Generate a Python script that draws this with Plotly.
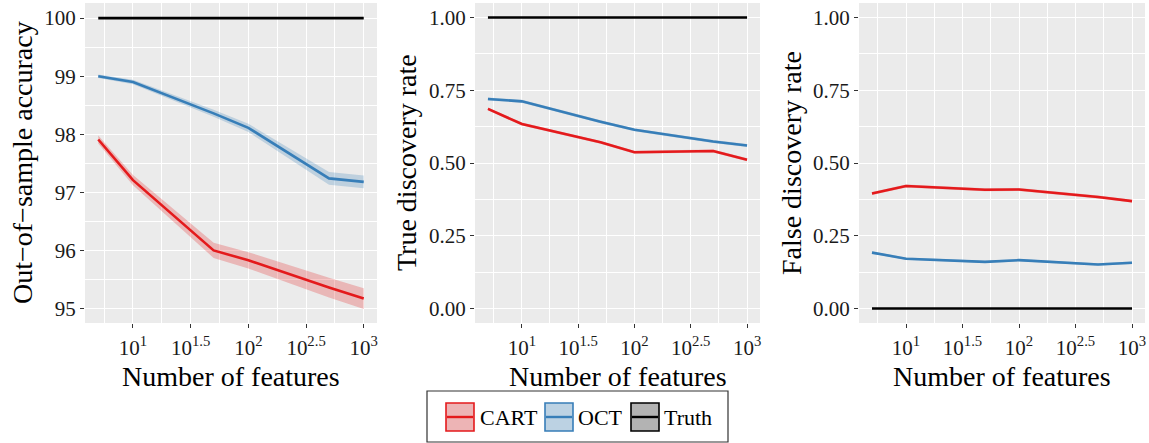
import plotly.graph_objects as go

# ---------------- data ----------------
n_features = [5, 10, 50, 100, 500, 1000]

# Panel 1: out-of-sample accuracy
acc_cart = [97.91, 97.21, 96.00, 95.83, 95.36, 95.17]
acc_cart_lo = [97.84, 97.12, 95.87, 95.69, 95.19, 94.99]
acc_cart_hi = [97.98, 97.30, 96.13, 95.97, 95.53, 95.35]
acc_oct = [99.00, 98.90, 98.36, 98.11, 97.24, 97.18]
acc_oct_lo = [98.97, 98.86, 98.30, 98.04, 97.13, 97.07]
acc_oct_hi = [99.03, 98.94, 98.42, 98.18, 97.35, 97.29]
acc_truth = [100, 100, 100, 100, 100, 100]

# Panel 2: true discovery rate
tdr_cart = [0.686, 0.634, 0.571, 0.537, 0.541, 0.511]
tdr_cart_lo = [0.681, 0.629, 0.566, 0.532, 0.536, 0.506]
tdr_cart_hi = [0.691, 0.639, 0.576, 0.542, 0.546, 0.516]
tdr_oct = [0.720, 0.712, 0.642, 0.614, 0.574, 0.560]
tdr_oct_lo = [0.715, 0.707, 0.637, 0.609, 0.569, 0.555]
tdr_oct_hi = [0.725, 0.717, 0.647, 0.619, 0.579, 0.565]
tdr_truth = [1, 1, 1, 1, 1, 1]

# Panel 3: false discovery rate
fdr_cart = [0.395, 0.421, 0.408, 0.409, 0.383, 0.369]
fdr_cart_lo = [0.390, 0.416, 0.403, 0.404, 0.378, 0.364]
fdr_cart_hi = [0.400, 0.426, 0.413, 0.414, 0.388, 0.374]
fdr_oct = [0.192, 0.171, 0.160, 0.166, 0.151, 0.157]
fdr_oct_lo = [0.188, 0.167, 0.156, 0.162, 0.147, 0.153]
fdr_oct_hi = [0.196, 0.175, 0.164, 0.170, 0.155, 0.161]
fdr_truth = [0, 0, 0, 0, 0, 0]

x_tickvals = [10, 10 ** 1.5, 100, 10 ** 2.5, 1000]
x_ticktext = ["10<sup>1</sup>", "10<sup>1.5</sup>", "10<sup>2</sup>", "10<sup>2.5</sup>", "10<sup>3</sup>"]
x_minor = [10 ** 0.75, 10 ** 1.25, 10 ** 1.75, 10 ** 2.25, 10 ** 2.75]

y1_ticks = [95, 96, 97, 98, 99, 100]
y1_minor = [95.5, 96.5, 97.5, 98.5, 99.5]
y23_ticks = [0, 0.25, 0.5, 0.75, 1.0]
y23_ticktext = ["0.00", "0.25", "0.50", "0.75", "1.00"]
y23_minor = [0.125, 0.375, 0.625, 0.875]

y_titles = ["Out\u2212of\u2212sample accuracy", "True discovery rate", "False discovery rate"]
x_title = "Number of features"
legend_labels = ["CART", "OCT", "Truth"]

# ---------------- style ----------------
W, H = 1149, 443
RED = "#E41A1C"
BLUE = "#377EB8"
RED_FILL = "rgba(228,26,28,0.25)"
BLUE_FILL = "rgba(55,126,184,0.25)"
FONT = "Liberation Serif"
TICK_FONT = dict(family=FONT, size=21, color="#1a1a1a")
TITLE_FONT = dict(family=FONT, size=28, color="black")

panels_px = [(85, 377), (475, 760), (859, 1145)]
top_px, bottom_px = 3, 323

fig = go.Figure()

datasets = [
    (acc_cart, acc_cart_lo, acc_cart_hi, acc_oct, acc_oct_lo, acc_oct_hi, acc_truth),
    (tdr_cart, tdr_cart_lo, tdr_cart_hi, tdr_oct, tdr_oct_lo, tdr_oct_hi, tdr_truth),
    (fdr_cart, fdr_cart_lo, fdr_cart_hi, fdr_oct, fdr_oct_lo, fdr_oct_hi, fdr_truth),
]

for i, (c, clo, chi, o, olo, ohi, t) in enumerate(datasets):
    xa = "x" if i == 0 else f"x{i+1}"
    ya = "y" if i == 0 else f"y{i+1}"
    for mean, lo, hi, col, fillc in [(c, clo, chi, RED, RED_FILL), (o, olo, ohi, BLUE, BLUE_FILL)]:
        fig.add_trace(go.Scatter(
            x=n_features + n_features[::-1], y=hi + lo[::-1],
            fill="toself", fillcolor=fillc, line=dict(width=0), mode="lines",
            hoverinfo="skip", showlegend=False, xaxis=xa, yaxis=ya))
        fig.add_trace(go.Scatter(
            x=n_features, y=mean, mode="lines", line=dict(color=col, width=2.6),
            showlegend=False, xaxis=xa, yaxis=ya))
    fig.add_trace(go.Scatter(
        x=n_features, y=t, mode="lines", line=dict(color="black", width=2.6),
        showlegend=False, xaxis=xa, yaxis=ya))

layout = dict(
    width=W, height=H, margin=dict(l=0, r=0, t=0, b=0),
    paper_bgcolor="white", plot_bgcolor="#EBEBEB", showlegend=False,
)

for i, (l, r) in enumerate(panels_px):
    xk = "xaxis" if i == 0 else f"xaxis{i+1}"
    yk = "yaxis" if i == 0 else f"yaxis{i+1}"
    xa_anchor = "y" if i == 0 else f"y{i+1}"
    ya_anchor = "x" if i == 0 else f"x{i+1}"
    layout[xk] = dict(
        type="log", domain=[l / W, r / W], anchor=xa_anchor,
        range=[0.584, 3.115], tickmode="array", tickvals=x_tickvals, ticktext=x_ticktext,
        ticks="outside", ticklen=4, tickwidth=1, tickcolor="#333333", ticklabelstandoff=2,
        showgrid=True, gridcolor="white", gridwidth=1.3, zeroline=False, showline=False,
        tickfont=TICK_FONT,
        minor=dict(tickmode="array", tickvals=x_minor, ticks="", showgrid=True,
                   gridcolor="white", gridwidth=0.6),
    )
    if i == 0:
        yr = [94.75, 100.26]
        tv, tt, mv = y1_ticks, [str(v) for v in y1_ticks], y1_minor
    else:
        yr = [-0.05, 1.05]
        tv, tt, mv = y23_ticks, y23_ticktext, y23_minor
    layout[yk] = dict(
        domain=[1 - bottom_px / H, 1 - top_px / H], anchor=ya_anchor, range=yr,
        tickmode="array", tickvals=tv, ticktext=tt,
        ticks="outside", ticklen=4, tickwidth=1, tickcolor="#333333",
        showgrid=True, gridcolor="white", gridwidth=1.3, zeroline=False, showline=False,
        tickfont=TICK_FONT,
        minor=dict(tickmode="array", tickvals=mv, ticks="", showgrid=True,
                   gridcolor="white", gridwidth=0.6),
    )

fig.update_layout(**layout)

annotations = []
y_title_x = [22, 406, 791]
for i, (l, r) in enumerate(panels_px):
    annotations.append(dict(
        text=x_title, xref="paper", yref="paper", x=((l + r) / 2) / W, y=1 - 376 / H,
        xanchor="center", yanchor="middle", showarrow=False, font=TITLE_FONT))
    annotations.append(dict(
        text=y_titles[i], xref="paper", yref="paper", x=y_title_x[i] / W,
        y=1 - ((top_px + bottom_px) / 2) / H, textangle=-90,
        xanchor="center", yanchor="middle", showarrow=False, font=TITLE_FONT))

# legend (drawn manually to mimic ggplot keys)
shapes = []
def px_rect(x0, y0, x1, y1, **kw):
    return dict(type="rect", xref="paper", yref="paper",
                x0=x0 / W, x1=x1 / W, y0=1 - y1 / H, y1=1 - y0 / H, **kw)

shapes.append(px_rect(427, 391, 728, 442, line=dict(color="#333333", width=1.2), fillcolor="white"))
keys = [(446, RED, "#EDB4B5"), (545, BLUE, "#BCD2E3"), (631, "black", "#B3B3B3")]
label_x = [478, 576, 662]
for (kx, col, fc), lab, lx in zip(keys, legend_labels, label_x):
    shapes.append(px_rect(kx, 403, kx + 28, 431, line=dict(color=col, width=1.6), fillcolor=fc))
    shapes.append(dict(type="line", xref="paper", yref="paper",
                       x0=(kx + 1) / W, x1=(kx + 27) / W, y0=1 - 417 / H, y1=1 - 417 / H,
                       line=dict(color=col, width=2.4)))
    annotations.append(dict(text=lab, xref="paper", yref="paper", x=lx / W, y=1 - 417 / H,
                            xanchor="left", yanchor="middle", showarrow=False,
                            font=dict(family=FONT, size=22, color="black")))

fig.update_layout(annotations=annotations, shapes=shapes)
fig.write_html("out.html")
